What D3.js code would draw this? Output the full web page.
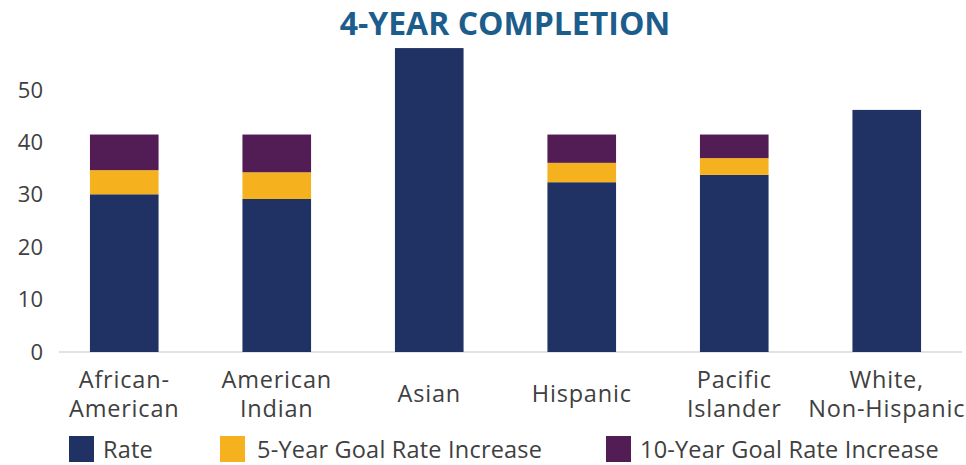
<!DOCTYPE html>
<html>
<head>
<meta charset="utf-8">
<script src="https://cdn.jsdelivr.net/npm/d3@7"></script>
<style>
  body { margin: 0; background: #fff; }
  text { font-family: "Open Sans", sans-serif; }
</style>
</head>
<body>
<div id="chart"></div>
<script>
// chart data
let categories = ["African-American", "American Indian", "Asian", "Hispanic", "Pacific Islander", "White, Non-Hispanic"];
let catLines = [["African-", "American"], ["American", "Indian"], ["Asian"], ["Hispanic"], ["Pacific", "Islander"], ["White,", "Non-Hispanic"]];
let rate = [30.1, 29.2, 58.0, 32.4, 33.8, 46.2];
let goal5 = [4.6, 5.1, 0, 3.7, 3.2, 0];
let goal10 = [6.8, 7.2, 0, 5.4, 4.5, 0];
let seriesNames = ["Rate", "5-Year Goal Rate Increase", "10-Year Goal Rate Increase"];
let yTicks = [0, 10, 20, 30, 40, 50];

let dims = { width: 966, height: 465 };
let colours = ["#203164", "#f6b21e", "#521c54"];

const svg = d3.select("#chart").append("svg")
  .attr("width", dims.width).attr("height", dims.height);

svg.append("text")
  .attr("x", 505).attr("y", 35)
  .attr("text-anchor", "middle")
  .style("font-size", "32px").style("font-weight", "bold")
  .style("fill", "#1c5d8c")
  .text("4-YEAR COMPLETION");

const x = d3.scaleBand().domain(categories).range([48, 963]).paddingInner(0.55).paddingOuter(0.275);
const y = d3.scaleLinear().domain([0, 60]).range([352, 37.6]);

// no grid, just the baseline
svg.append("line")
  .attr("x1", 59).attr("x2", 962)
  .attr("y1", y(0)).attr("y2", y(0))
  .attr("stroke", "#d9d9d9").attr("stroke-width", 1.5);

const yAxis = svg.append("g")
  .attr("transform", "translate(43,0)")
  .call(d3.axisLeft(y).tickValues(yTicks).tickSize(0).tickPadding(0));
yAxis.select(".domain").remove();
yAxis.selectAll("text")
  .style("font-size", "22px").style("fill", "#404040")
  .style("font-family", "'Open Sans', sans-serif");

let table = categories.map((c, i) => ({ cat: c, rate: rate[i], goal5: goal5[i], goal10: goal10[i] }));
let stack = d3.stack().keys(["rate", "goal5", "goal10"])(table);

svg.append("g").selectAll("g")
  .data(stack)
  .join("g")
  .attr("fill", (d, i) => colours[i])
  .selectAll("rect")
  .data(d => d.filter(s => s[1] - s[0] > 0))
  .join("rect")
  .attr("x", d => x(d.data.cat))
  .attr("width", x.bandwidth())
  .attr("y", d => y(d[1]))
  .attr("height", d => y(d[0]) - y(d[1]));

// category labels
const labels = svg.append("g");
categories.forEach((c, i) => {
  let lines = catLines[i];
  let cx = x(c) + x.bandwidth() / 2;
  let t = labels.append("text")
    .attr("text-anchor", "middle")
    .attr("x", cx)
    .attr("y", lines.length == 1 ? 402 : 388)
    .style("font-size", "23.5px").style("letter-spacing", "0.8px")
    .style("fill", "#404040");
  lines.forEach((l, j) => {
    t.append("tspan").attr("x", cx).attr("dy", j == 0 ? 0 : 29).text(l);
  });
});

// legend
let legendX = [69, 220, 606];
let legendTextX = [103, 257, 640];
const legend = svg.append("g").selectAll("g")
  .data(seriesNames)
  .join("g")
  .attr("transform", (d, i) => `translate(${legendX[i]},436)`);
legend.append("rect")
  .attr("width", 25).attr("height", 26)
  .attr("fill", (d, i) => colours[i]);
legend.append("text")
  .attr("x", (d, i) => legendTextX[i] - legendX[i])
  .attr("y", 22)
  .style("font-size", "23.5px").style("letter-spacing", "0.2px")
  .style("fill", "#404040")
  .text(d => d);
</script>
</body>
</html>
